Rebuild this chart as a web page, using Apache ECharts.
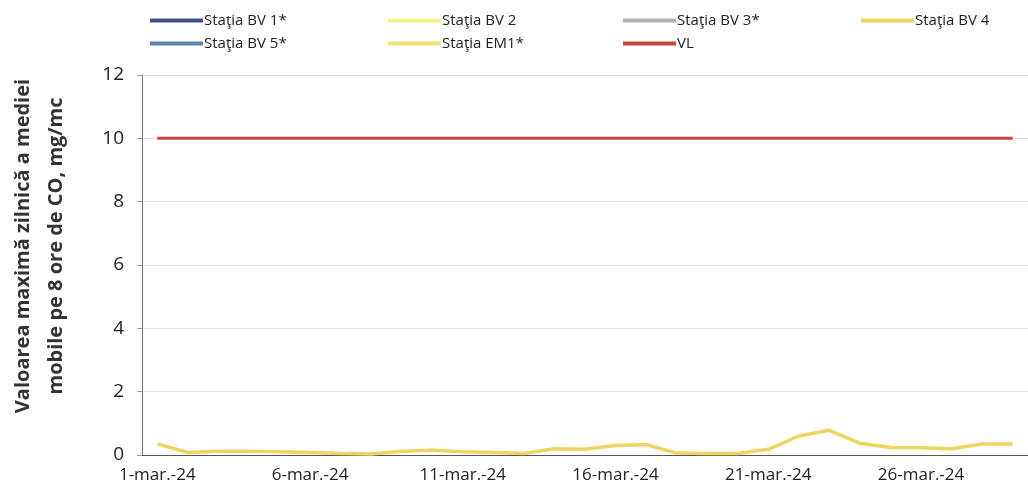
<!DOCTYPE html>
<html>
<head>
<meta charset="utf-8">
<script src="https://cdn.jsdelivr.net/npm/echarts@6/dist/echarts.min.js"></script>
<style>html,body{margin:0;padding:0;background:#fff;}#c{width:1028px;height:497px;}</style>
</head>
<body>
<div id="c"></div>
<script>
const categories = ['1-mar.-24','2-mar.-24','3-mar.-24','4-mar.-24','5-mar.-24','6-mar.-24','7-mar.-24','8-mar.-24','9-mar.-24','10-mar.-24','11-mar.-24','12-mar.-24','13-mar.-24','14-mar.-24','15-mar.-24','16-mar.-24','17-mar.-24','18-mar.-24','19-mar.-24','20-mar.-24','21-mar.-24','22-mar.-24','23-mar.-24','24-mar.-24','25-mar.-24','26-mar.-24','27-mar.-24','28-mar.-24','29-mar.-24'];
const bv4 = [0.35,0.08,0.12,0.12,0.1,0.08,0.05,0.03,0.12,0.15,0.1,0.08,0.05,0.2,0.18,0.3,0.33,0.06,0.05,0.05,0.18,0.6,0.78,0.37,0.24,0.23,0.2,0.35,0.35];
const vl = [10,10,10,10,10,10,10,10,10,10,10,10,10,10,10,10,10,10,10,10,10,10,10,10,10,10,10,10,10];
const bv1 = [], bv2 = [], bv3 = [], bv5 = [], em1 = [];
const yTicks = {min:0, max:12, interval:2};

const font = 'Open Sans';
const legendBase = {orient:'vertical', top:8, itemWidth:53, itemHeight:4, itemGap:8, icon:'rect',
  textStyle:{fontFamily:'Open Sans', fontSize:15, color:'#222', padding:[0,0,0,-4]}};
const chart = echarts.init(document.getElementById('c'));
chart.setOption({
  animation:false,
  backgroundColor:'#fff',
  legend:[
    Object.assign({}, legendBase, {left:145, data:['Staţia BV 1*','Staţia BV 5*']}),
    Object.assign({}, legendBase, {left:383, data:['Staţia BV 2','Staţia EM1*']}),
    Object.assign({}, legendBase, {left:618, data:['Staţia BV 3*','VL']}),
    Object.assign({}, legendBase, {left:856, data:['Staţia BV 4']})
  ],
  grid:{left:142, right:0, top:75, bottom:42, containLabel:false, outerBoundsMode:'none'},
  xAxis:{type:'category', data:categories, boundaryGap:true,
    axisLine:{lineStyle:{color:'#555', width:1}},
    axisTick:{interval:4, alignWithLabel:true, lineStyle:{color:'#555'}, length:5},
    axisLabel:{interval:4, fontFamily:font, fontSize:17, color:'#222', margin:12}},
  yAxis:{type:'value', min:yTicks.min, max:yTicks.max, interval:yTicks.interval,
    name:'Valoarea maximă zilnică a mediei\nmobile pe 8 ore de CO, mg/mc',
    nameLocation:'middle', nameGap:69, nameRotate:90,
    nameTextStyle:{fontFamily:'Open Sans', fontWeight:'bold', fontSize:20, color:'#333', lineHeight:33, padding:[0,0,0,38]},
    axisLine:{show:true, lineStyle:{color:'#777'}},
    axisTick:{show:true, length:5, lineStyle:{color:'#999'}},
    axisLabel:{fontFamily:font, fontSize:19, color:'#222', margin:18},
    splitLine:{lineStyle:{color:'#e0e0e0'}}},
  series:[
    {name:'Staţia BV 1*', type:'line', data:bv1, color:'#3b4f8c', symbol:'none', lineStyle:{width:3}},
    {name:'Staţia BV 2', type:'line', data:bv2, color:'#f6f08c', symbol:'none', lineStyle:{width:3}},
    {name:'Staţia BV 3*', type:'line', data:bv3, color:'#b0b0b0', symbol:'none', lineStyle:{width:3}},
    {name:'Staţia BV 4', type:'line', data:bv4, color:'#efd462', symbol:'none', lineStyle:{width:3.5}},
    {name:'Staţia BV 5*', type:'line', data:bv5, color:'#5f86ad', symbol:'none', lineStyle:{width:3}},
    {name:'Staţia EM1*', type:'line', data:em1, color:'#f2e274', symbol:'none', lineStyle:{width:3}},
    {name:'VL', type:'line', data:vl, color:'#c8453a', symbol:'none', lineStyle:{width:3}}
  ]
});
</script>
</body>
</html>
